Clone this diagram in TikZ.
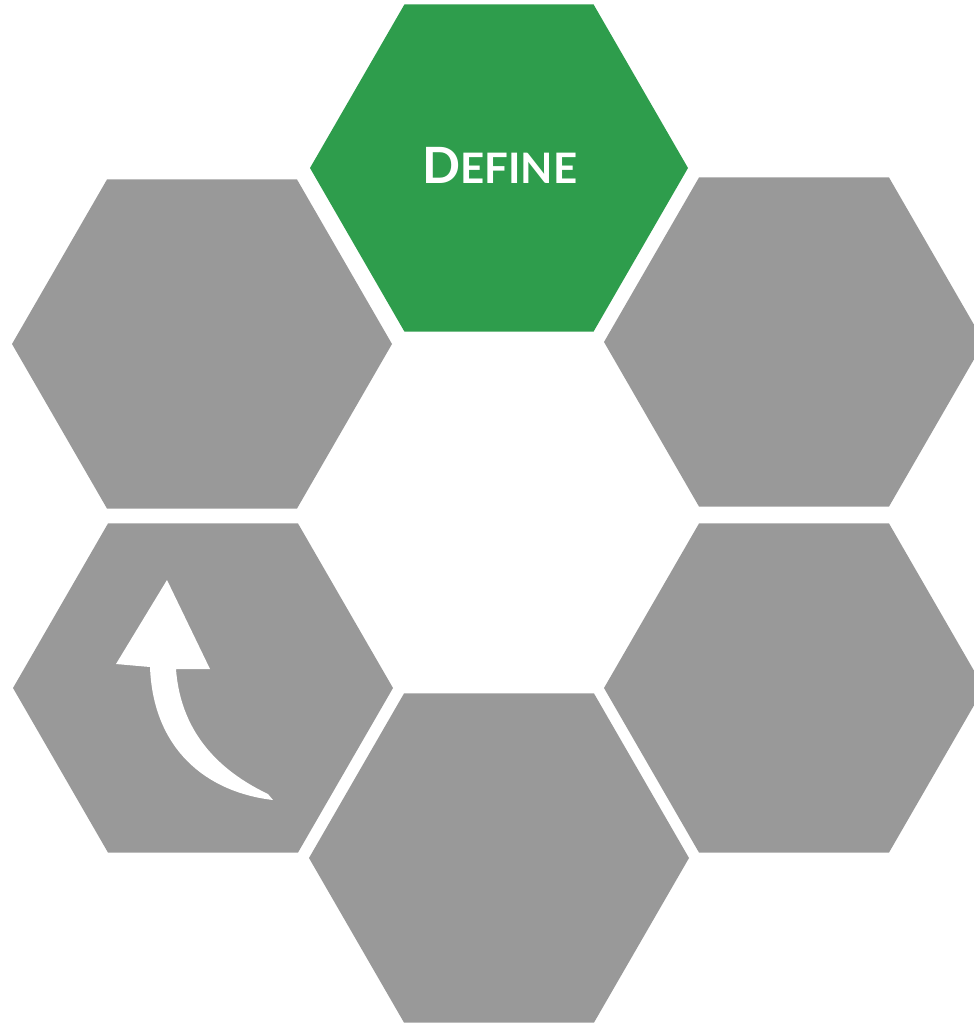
\documentclass[tikz,border=0pt]{standalone}
\usepackage{fontspec}
\setmainfont{Lato}
\usetikzlibrary{shapes.geometric}
\definecolor{hexgray}{RGB}{153,153,153}
\definecolor{hexgreen}{RGB}{46,157,76}
\tikzset{
  hexa/.style={regular polygon, regular polygon sides=6, minimum size=380pt,
    inner sep=0pt, outer sep=0pt, fill=hexgray, draw=none},
  hexgreenfill/.style={fill=hexgreen},
  hexlabel/.style={text=white, font=\bfseries}
}
\begin{document}
\begin{tikzpicture}[x=1pt,y=-1pt]
\path[use as bounding box] (0,0) rectangle (974,1026);
\clip (0,0) rectangle (974,1026);
\node[hexa, hexgreenfill, minimum size=378pt] (define) at (499,168) {};
\node[hexa] (ul) at (202,344) {};
\node[hexa] (ur) at (794,342) {};
\node[hexa] (ll) at (203,688) {};
\node[hexa] (lr) at (794,688) {};
\node[hexa] (bot) at (499,858) {};
\node[hexlabel, anchor=base] (deftext) at (500,183) {\fontsize{50}{50}\selectfont D\fontsize{42}{42}\selectfont EFINE};
% hand-drawn arrow
\fill[white] (167,580) -- (116,664) -- (150,667)
  .. controls (153,748) and (205,792) .. (273,800)
  -- (268,794)
  .. controls (226,774) and (181,738) .. (176,669)
  -- (210,669) -- cycle;
\end{tikzpicture}
\end{document}
